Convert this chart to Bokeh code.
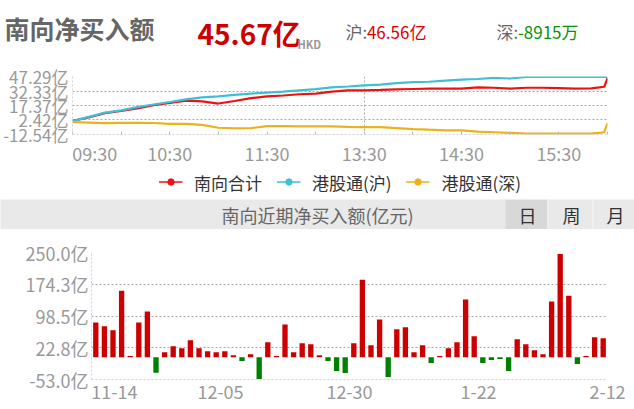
from bokeh.plotting import figure
from bokeh.models import (ColumnDataSource, Range1d, FixedTicker, Legend,
                          LegendItem, BoxAnnotation, Span, PrintfTickFormatter)
from bokeh.embed import file_html
from bokeh.resources import INLINE
from bokeh.core.properties import value

FONT = "Noto Sans CJK SC"

# ---------------- data ----------------
times = ["09:30", "09:40", "09:50", "10:00", "10:10", "10:20", "10:30", "10:40", "10:50",
         "11:00", "11:10", "11:20", "11:30", "11:40", "11:50", "12:00", "13:10", "13:20",
         "13:30", "13:40", "13:50", "14:00", "14:10", "14:20", "14:30", "14:40", "14:50",
         "15:00", "15:10", "15:20", "15:30", "15:40", "15:50", "15:55", "15:58", "16:00"]
south_total = [1.5, 5.0, 9.4, 11.7, 14.4, 17.7, 20.0, 22.4, 21.7,
               19.4, 22.0, 25.0, 26.7, 27.7, 29.0, 29.7, 31.7, 33.0,
               33.0, 33.4, 34.0, 34.4, 34.7, 34.7, 34.7, 36.0, 35.7,
               34.7, 35.7, 35.7, 35.4, 34.7, 35.0, 36.0, 36.7, 45.67]
hk_sh = [1.2, 5.7, 10.0, 12.4, 15.7, 18.4, 21.0, 23.7, 25.7,
         26.7, 28.4, 29.7, 30.7, 31.7, 33.0, 34.2, 36.0, 37.0,
         38.2, 38.9, 40.5, 41.4, 41.9, 43.1, 44.0, 44.7, 45.9,
         45.2, 46.8, 46.8, 46.9, 46.8, 46.8, 46.8, 46.8, 46.56]
hk_sz = [0.3, -0.3, -0.9, -0.6, -0.6, -0.7, -1.6, -1.6, -2.6,
         -5.6, -6.3, -6.0, -3.9, -3.9, -4.2, -4.2, -4.2, -4.6,
         -4.9, -4.9, -5.9, -6.9, -7.6, -8.2, -8.2, -9.6, -10.2,
         -10.9, -11.6, -11.6, -11.6, -11.6, -11.6, -10.9, -10.2, -0.8915]

line_y_ticks = [-12.54, 2.42, 17.37, 32.33, 47.29]
time_labels = ["09:30", "10:30", "11:30", "13:30", "14:30", "15:30"]
time_minor = ["09:30", "10:00", "10:30", "11:00", "11:30", "12:00", "13:30", "14:00",
              "14:30", "15:00", "15:30", "16:00"]
series_names = ["南向合计", "港股通(沪)", "港股通(深)"]

net_buy = [83.2, 73.8, 64.3, 159.0, 2.8, 83.2, 109.3, -36.7, 12.2, 26.4,
           21.7, 40.6, 21.7, 14.6, 12.2, 14.6, 5.1, -9.1, 7.5, -51.7,
           35.9, 2.8, 78.5, 12.2, 33.5, 31.2, 5.1, -9.1, -32.7, -37.5,
           33.5, 185.0, 28.8, 90.3, -46.9, 66.7, 71.4, 12.2, 28.8, -13.8,
           2.8, 21.7, 35.9, 137.7, 50.1, -13.8, -6.7, -4.3, -32.7, 43.0,
           31.2, 17.0, 7.5, 133.0, 246.6, 147.1, -16.2, 2.8, 47.7, 45.67]
bar_y_ticks = [-53.0, 22.8, 98.5, 174.3, 250.0]
date_labels = ["11-14", "12-05", "12-30", "1-22", "2-12"]
date_label_every = 15

# ---------------- styles ----------------
RED = "#f01010"
CYAN = "#3fbfd5"
YELLOW = "#ebb31a"
BAR_RED = "#cc0000"
BAR_GREEN = "#008000"
LABEL_GRAY = "#999999"
GRID = "#aaaaaa"
AXIS = "#d0d0d0"


def to_min(t):
    h, m = map(int, t.split(":"))
    mins = h * 60 + m
    return mins - 570 if mins <= 720 else mins - 630


def text_w(s, fs):
    w = 0.0
    for ch in s:
        if ch.isdigit():
            w += 0.554
        elif ch in ":.":
            w += 0.26
        elif ch == "-":
            w += 0.33
        else:
            w += 1.0
    return w * fs


def place(p, top):
    p.styles = {"position": "absolute", "left": "0px", "top": f"{top}px"}
    return p


def style_axes(p, font_size, standoff):
    for ax in p.yaxis:
        ax.axis_line_color = AXIS
        ax.axis_line_dash = "2 2"
        ax.major_tick_line_color = None
        ax.minor_tick_line_color = None
        ax.major_tick_out = 0
        ax.major_tick_in = 0
        ax.minor_tick_out = 0
        ax.minor_tick_in = 0
        ax.major_label_text_font = FONT
        ax.major_label_text_font_size = font_size
        ax.major_label_text_color = LABEL_GRAY
        ax.major_label_standoff = standoff
    for ax in p.xaxis:
        ax.axis_line_color = AXIS
        ax.axis_line_dash = "2 2"
        ax.major_tick_line_color = None
        ax.major_tick_out = 0
        ax.major_tick_in = 0
        ax.minor_tick_out = 0
        ax.major_label_text_font = FONT
        ax.major_label_text_font_size = "18px"
        ax.major_label_text_color = LABEL_GRAY


def blank_fig(w, h, **kw):
    return figure(width=w, height=h, x_axis_type=None, y_axis_type=None,
                  toolbar_location=None, output_backend="svg", outline_line_color=None, **kw)


# ---------------- header ----------------
hdr = blank_fig(634, 60, x_range=Range1d(0, 634), y_range=Range1d(60, 0), min_border=0)
hdr.text(x=[4], y=[27], text=["南向净买入额"], text_font=value(FONT), text_font_size="25px",
         text_font_style="bold", text_color="#666666", text_baseline="middle", text_align="left")
hdr.text(x=[197], y=[32], text=[f"{south_total[-1]:.2f}亿"], text_font=value(FONT),
         text_font_size="28px", text_font_style="bold", text_color="#cc0000",
         text_baseline="middle", text_align="left")
hdr.text(x=[297], y=[43], text=["HKD"], text_font=value(FONT), text_font_size="11px",
         text_font_style="bold", text_color="#999999", text_baseline="alphabetic", text_align="left")
hdr.text(x=[345, 496], y=[31, 31], text=["沪:", "深:"], text_font=value(FONT),
         text_font_size="17px", text_color="#666666", text_baseline="middle", text_align="left")
hdr.text(x=[345 + text_w("沪:", 17)], y=[31], text=[f"{hk_sh[-1]:.2f}亿"], text_font=value(FONT),
         text_font_size="17px", text_color="#dd0000", text_baseline="middle", text_align="left")
hdr.text(x=[496 + text_w("深:", 17)], y=[31], text=[f"{hk_sz[-1] * 10000:.0f}万"],
         text_font=value(FONT), text_font_size="17px", text_color="#0a940a",
         text_baseline="middle", text_align="left")
place(hdr, 0)

# ---------------- intraday line chart ----------------
xm = [to_min(t) for t in times]
lsrc = ColumnDataSource(dict(x=xm, total=south_total, sh=hk_sh, sz=hk_sz))
x_end = to_min("16:00")
LC_LEFT, LC_RIGHT = 72, 27
lc = figure(width=634, height=108, x_range=Range1d(0, x_end),
            y_range=Range1d(line_y_ticks[0], line_y_ticks[-1]),
            toolbar_location=None, output_backend="svg",
            min_border_left=LC_LEFT, min_border_right=LC_RIGHT, min_border_top=16,
            min_border_bottom=32, outline_line_color=None)
style_axes(lc, "17px", 4)
lc.yaxis.ticker = FixedTicker(ticks=line_y_ticks)
lc.yaxis.formatter = PrintfTickFormatter(format="%.2f亿")
# first label sits left-aligned at the axis start: shift its anchor by half its width
px_per_min = (634 - LC_LEFT - LC_RIGHT) / x_end
tick_pos = [to_min(t) for t in time_labels]
tick_pos[0] = tick_pos[0] + text_w(time_labels[0], 18) / 2 / px_per_min
lc.xaxis.ticker = FixedTicker(ticks=tick_pos, minor_ticks=[to_min(t) for t in time_minor])
lc.xaxis.major_label_overrides = {p: t for p, t in zip(tick_pos, time_labels)}
lc.xaxis.minor_tick_in = 3
lc.xaxis.minor_tick_out = 0
lc.xaxis.minor_tick_line_color = "#bbbbbb"
lc.xaxis.major_label_standoff = 5
lc.ygrid.ticker = FixedTicker(ticks=line_y_ticks[1:-1])
lc.ygrid.grid_line_color = GRID
lc.ygrid.grid_line_dash = "2 2"
lc.xgrid.ticker = FixedTicker(ticks=[to_min("13:30")])
lc.xgrid.grid_line_color = GRID
lc.xgrid.grid_line_dash = "2 2"

colors = [RED, CYAN, YELLOW]
keys = ["total", "sh", "sz"]
for col, key in zip(colors, keys):
    lc.line("x", key, source=lsrc, line_color=col, line_width=2.2)
place(lc, 60)

# ---------------- legend strip (its glyphs lie outside the strip's view) ----------------
leg = blank_fig(634, 35, x_range=Range1d(-2 * x_end, -x_end), y_range=Range1d(0, 1),
                min_border_left=LC_LEFT, min_border_right=LC_RIGHT,
                min_border_top=0, min_border_bottom=0)
items = []
for name, col, key in zip(series_names, colors, keys):
    r = leg.line("x", key, source=lsrc, line_color=col, line_width=1.5)
    d = leg.scatter("x", key, source=lsrc, size=11, fill_color=col, line_color=col)
    items.append(LegendItem(label=name, renderers=[r, d], index=0))
leg.add_layout(Legend(items=items, orientation="horizontal", location="center",
                      border_line_color=None, background_fill_alpha=0,
                      label_text_font=FONT, label_text_font_size="17px",
                      label_text_color="#333333", glyph_width=24, glyph_height=16,
                      label_standoff=12, spacing=14, padding=4, margin=0))
place(leg, 164)

# ---------------- band ----------------
band = blank_fig(634, 30, x_range=Range1d(0, 634), y_range=Range1d(30, 0), min_border=0,
                 background_fill_color="#e9e9e9", border_fill_color="#e9e9e9")
band.add_layout(BoxAnnotation(left=505, right=547, fill_color="#d8d8d8", fill_alpha=1,
                              line_color=None, level="underlay"))
for xs in (547.5, 592.5):
    band.add_layout(Span(location=xs, dimension="height", line_color="#f6f6f6",
                         line_width=1, level="underlay"))
band.text(x=[317], y=[15], text=["南向近期净买入额(亿元)"], text_font=value(FONT),
          text_font_size="18px", text_color="#666666", text_baseline="middle", text_align="center")
band.text(x=[527, 571, 615], y=[15, 15, 15], text=["日", "周", "月"], text_font=value(FONT),
          text_font_size="18px", text_color="#333333", text_baseline="middle", text_align="center")
place(band, 199)

# ---------------- bar chart ----------------
n = len(net_buy)
BC_LEFT, BC_RIGHT = 91, 27
bsrc = ColumnDataSource(dict(x=list(range(n)), top=net_buy,
                             color=[BAR_RED if v >= 0 else BAR_GREEN for v in net_buy]))
bc = figure(width=634, height=180, x_range=Range1d(-0.5, n - 0.5),
            y_range=Range1d(bar_y_ticks[0], bar_y_ticks[-1]),
            toolbar_location=None, output_backend="svg",
            min_border_left=BC_LEFT, min_border_right=BC_RIGHT, min_border_top=23,
            min_border_bottom=30, outline_line_color=None)
style_axes(bc, "18px", 3)
bc.vbar(x="x", top="top", bottom=0, width=0.62, fill_color="color", line_color=None, source=bsrc)
bc.yaxis.ticker = FixedTicker(ticks=bar_y_ticks)
bc.yaxis.formatter = PrintfTickFormatter(format="%.1f亿")
px_per_bar = (634 - BC_LEFT - BC_RIGHT) / n
dpos = [i * date_label_every - 0.5 for i in range(len(date_labels))]
dpos[0] = dpos[0] + text_w(date_labels[0], 18) / 2 / px_per_bar
bc.xaxis.ticker = FixedTicker(ticks=dpos)
bc.xaxis.major_label_overrides = {p: t for p, t in zip(dpos, date_labels)}
bc.xaxis.minor_tick_line_color = None
bc.xaxis.major_label_standoff = 5
bc.ygrid.ticker = FixedTicker(ticks=bar_y_ticks[1:-1])
bc.ygrid.grid_line_color = GRID
bc.ygrid.grid_line_dash = "2 2"
bc.xgrid.visible = False
place(bc, 229)

open("out.html", "w").write(file_html([hdr, lc, leg, band, bc], INLINE))
